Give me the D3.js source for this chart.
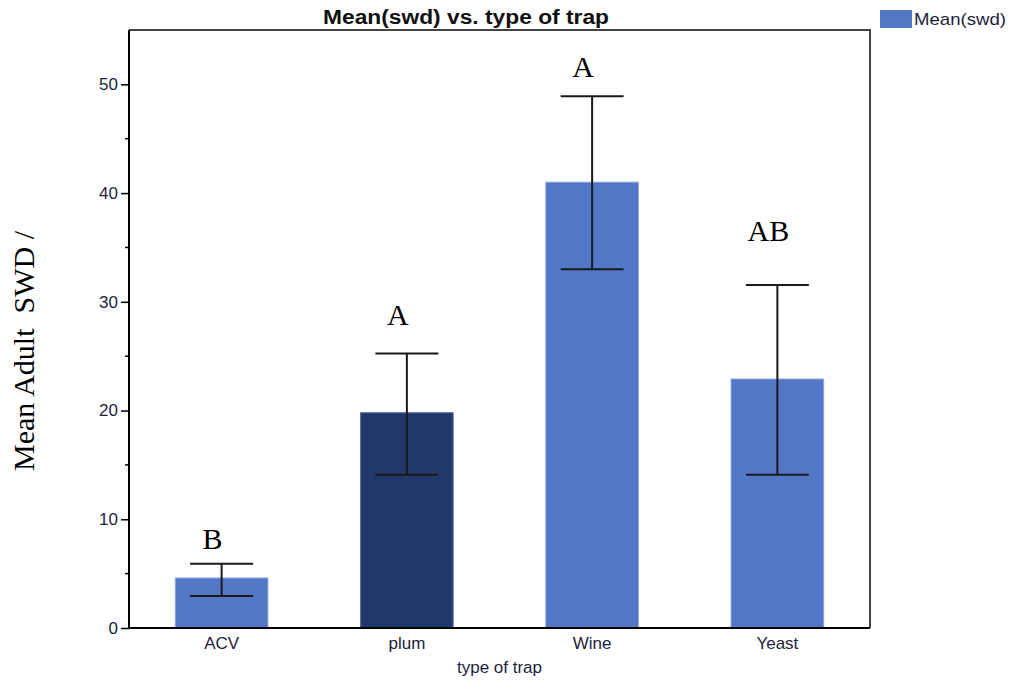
<!DOCTYPE html>
<html>
<head>
<meta charset="utf-8">
<script src="https://cdn.jsdelivr.net/npm/d3@7"></script>
<style>
  html, body { margin: 0; padding: 0; background: #fff; }
  svg { display: block; }
</style>
</head>
<body>
<svg id="chart" width="1012" height="686"></svg>
<script>
// Trap types and mean adult SWD catch, with the error-bar bounds
const traps = ["ACV", "plum", "Wine", "Yeast"];
const meanSwd = [4.6, 19.8, 41.0, 22.9];
const errLow = [2.95, 14.1, 33.0, 14.1];
const errHigh = [5.9, 25.25, 48.9, 31.55];
// significance-group letters and the value at which each sits
const groupLetters = ["B", "A", "A", "AB"];
const letterLevel = [7.26, 27.9, 50.7, 35.6];
const yTicks = [0, 10, 20, 30, 40, 50];
const yMinorTicks = [5, 15, 25, 35, 45];

const barColor = "#5277c6";
const highlightTrap = "plum";
const highlightColor = "#22386a";

const svg = d3.select("#chart");
const margin = { left: 129, right: 142, top: 30, bottom: 58 };
const W = 1012, H = 686;
const x0 = margin.left, x1 = W - margin.right;
const y0 = H - margin.bottom, y1 = margin.top;

const x = d3.scaleBand().domain(traps).range([x0, x1]).paddingInner(0.5).paddingOuter(0.25);
const y = d3.scaleLinear().domain([0, 55]).range([y0, y1]);

const sans = "'Liberation Sans', Arial, sans-serif";
const serif = "'Liberation Serif', 'Times New Roman', serif";

// bars
svg.append("g").selectAll("rect")
  .data(traps)
  .join("rect")
  .attr("x", d => x(d))
  .attr("y", (d, i) => y(meanSwd[i]))
  .attr("width", x.bandwidth())
  .attr("height", (d, i) => y(0) - y(meanSwd[i]))
  .attr("fill", d => d === highlightTrap ? highlightColor : barColor)
  .attr("stroke", d => d === highlightTrap ? "#5a6d99" : "#8da5dc")
  .attr("stroke-width", 1);

// error bars
const capHalf = x.bandwidth() * 0.34;
const eg = svg.append("g").attr("stroke", "#1a1a1a").attr("stroke-width", 2);
traps.forEach((t, i) => {
  const cx = x(t) + x.bandwidth() / 2;
  eg.append("line").attr("x1", cx).attr("x2", cx).attr("y1", y(errLow[i])).attr("y2", y(errHigh[i]));
  eg.append("line").attr("x1", cx - capHalf).attr("x2", cx + capHalf).attr("y1", y(errHigh[i])).attr("y2", y(errHigh[i]));
  eg.append("line").attr("x1", cx - capHalf).attr("x2", cx + capHalf).attr("y1", y(errLow[i])).attr("y2", y(errLow[i]));
});

// frame: top and right edges
svg.append("path")
  .attr("d", `M${x0},${y1}H${x1}V${y0}`)
  .attr("fill", "none").attr("stroke", "#444").attr("stroke-width", 2);

// y axis
const yAxis = svg.append("g").attr("transform", `translate(${x0},0)`)
  .call(d3.axisLeft(y).tickValues(yTicks).tickSize(8).tickPadding(3).tickSizeOuter(0));
yAxis.select(".domain").attr("stroke", "#000").attr("stroke-width", 2).attr("d", `M0,${y0}V${y1}`);
yAxis.selectAll(".tick line").attr("stroke", "#000").attr("stroke-width", 1.5);
yAxis.selectAll(".tick text").attr("font-family", sans).attr("font-size", 17).attr("fill", "#1e1e3c");
svg.append("g").selectAll("line").data(yMinorTicks).join("line")
  .attr("x1", x0 - 4).attr("x2", x0).attr("y1", d => y(d)).attr("y2", d => y(d))
  .attr("stroke", "#000").attr("stroke-width", 1.5);

// x axis
const xAxis = svg.append("g").attr("transform", `translate(0,${y0})`)
  .call(d3.axisBottom(x).tickSize(0).tickPadding(9).tickSizeOuter(0));
xAxis.select(".domain").attr("stroke", "#000").attr("stroke-width", 2).attr("d", `M${x0 - 1},0H${x1}`);
xAxis.selectAll(".tick text").attr("font-family", sans).attr("font-size", 17).attr("fill", "#1e1e3c");

// axis titles
svg.append("text")
  .attr("x", (x0 + x1) / 2).attr("y", 673)
  .attr("text-anchor", "middle")
  .attr("font-family", sans).attr("font-size", 17).attr("fill", "#1e1e3c")
  .text("type of trap");

svg.append("text")
  .attr("transform", "translate(33.5,351) rotate(-90)")
  .attr("text-anchor", "middle")
  .attr("font-family", serif).attr("font-size", 30).attr("fill", "#000")
  .attr("xml:space", "preserve")
  .style("white-space", "pre")
  .text("Mean Adult  SWD /");

// chart title
svg.append("text")
  .attr("x", 466).attr("y", 24)
  .attr("text-anchor", "middle")
  .attr("font-family", sans).attr("font-size", 20).attr("font-weight", "bold").attr("fill", "#111")
  .attr("textLength", 286).attr("lengthAdjust", "spacingAndGlyphs")
  .text("Mean(swd) vs. type of trap");

// legend
svg.append("rect").attr("x", 880).attr("y", 10).attr("width", 32).attr("height", 18)
  .attr("fill", barColor);
svg.append("text").attr("x", 914).attr("y", 25)
  .attr("font-family", sans).attr("font-size", 17).attr("fill", "#1e1e3c")
  .attr("textLength", 92).attr("lengthAdjust", "spacingAndGlyphs")
  .text("Mean(swd)");

// significance letters
svg.append("g").selectAll("text")
  .data(traps)
  .join("text")
  .attr("x", d => x(d) + x.bandwidth() / 2 - 9)
  .attr("y", (d, i) => y(letterLevel[i]))
  .attr("text-anchor", "middle")
  .attr("font-family", serif).attr("font-size", 30).attr("fill", "#000")
  .text((d, i) => groupLetters[i]);
</script>
</body>
</html>
